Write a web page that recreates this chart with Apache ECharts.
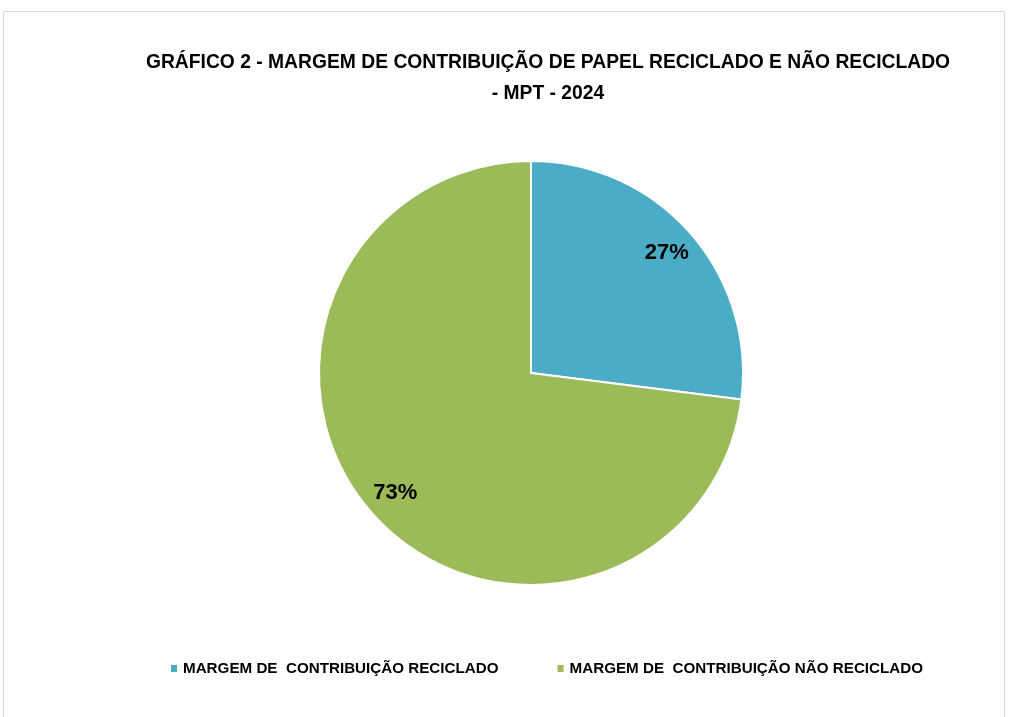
<!DOCTYPE html>
<html>
<head>
<meta charset="utf-8">
<script src="https://cdn.jsdelivr.net/npm/echarts@6/dist/echarts.min.js"></script>
<style>
  html, body { margin: 0; padding: 0; background: #fff; }
  #frame { position: absolute; left: 3px; top: 11px; width: 1002px; height: 720px; border: 1px solid #d9d9d9; box-sizing: border-box; }
  #chart { position: absolute; left: 0; top: 0; width: 1013px; height: 717px; }
</style>
</head>
<body>
<div id="frame"></div>
<div id="chart"></div>
<script>
// dados
var categorias = ['MARGEM DE  CONTRIBUIÇÃO RECICLADO', 'MARGEM DE  CONTRIBUIÇÃO NÃO RECICLADO'];
var percentuais = [27, 73];
var cores = ['#4bacc6', '#9bbb59'];

var myChart = echarts.init(document.getElementById('chart'));

var fonte = '"Liberation Sans", sans-serif';

var dados = categorias.map(function (nome, i) {
    return { name: nome, value: percentuais[i] };
});

var option = {
    color: cores,
    title: {
        text: 'GRÁFICO 2 - MARGEM DE CONTRIBUIÇÃO DE PAPEL RECICLADO E NÃO RECICLADO\n- MPT - 2024',
        left: 543,
        top: 42,
        textAlign: 'center',
        textStyle: {
            fontFamily: fonte,
            fontSize: 19.3,
            fontWeight: 'bold',
            color: '#000',
            lineHeight: 31
        }
    },
    legend: {
        bottom: 36,
        left: 164,
        itemWidth: 8,
        itemHeight: 9,
        itemGap: 57,
        icon: 'rect',
        textStyle: {
            fontFamily: fonte,
            fontSize: 15.2,
            fontWeight: 'bold',
            color: '#000'
        },
        data: categorias
    },
    series: [
        {
            type: 'pie',
            center: [531, 373],
            radius: [0, 212],
            startAngle: 90,
            clockwise: true,
            silent: true,
            itemStyle: { borderColor: '#fff', borderWidth: 2 },
            label: { show: false },
            labelLine: { show: false },
            data: dados
        },
        {
            // camada transparente só para posicionar os rótulos
            type: 'pie',
            center: [531, 373],
            radius: [144, 212],
            startAngle: 90,
            clockwise: true,
            silent: true,
            itemStyle: { color: 'transparent' },
            label: {
                show: true,
                position: 'inside',
                formatter: '{c}%',
                fontFamily: fonte,
                fontSize: 22,
                fontWeight: 'bold',
                color: '#000'
            },
            labelLine: { show: false },
            data: dados
        }
    ]
};

myChart.setOption(option);
window.addEventListener('resize', function () {
    myChart.resize();
});
</script>
</body>
</html>
